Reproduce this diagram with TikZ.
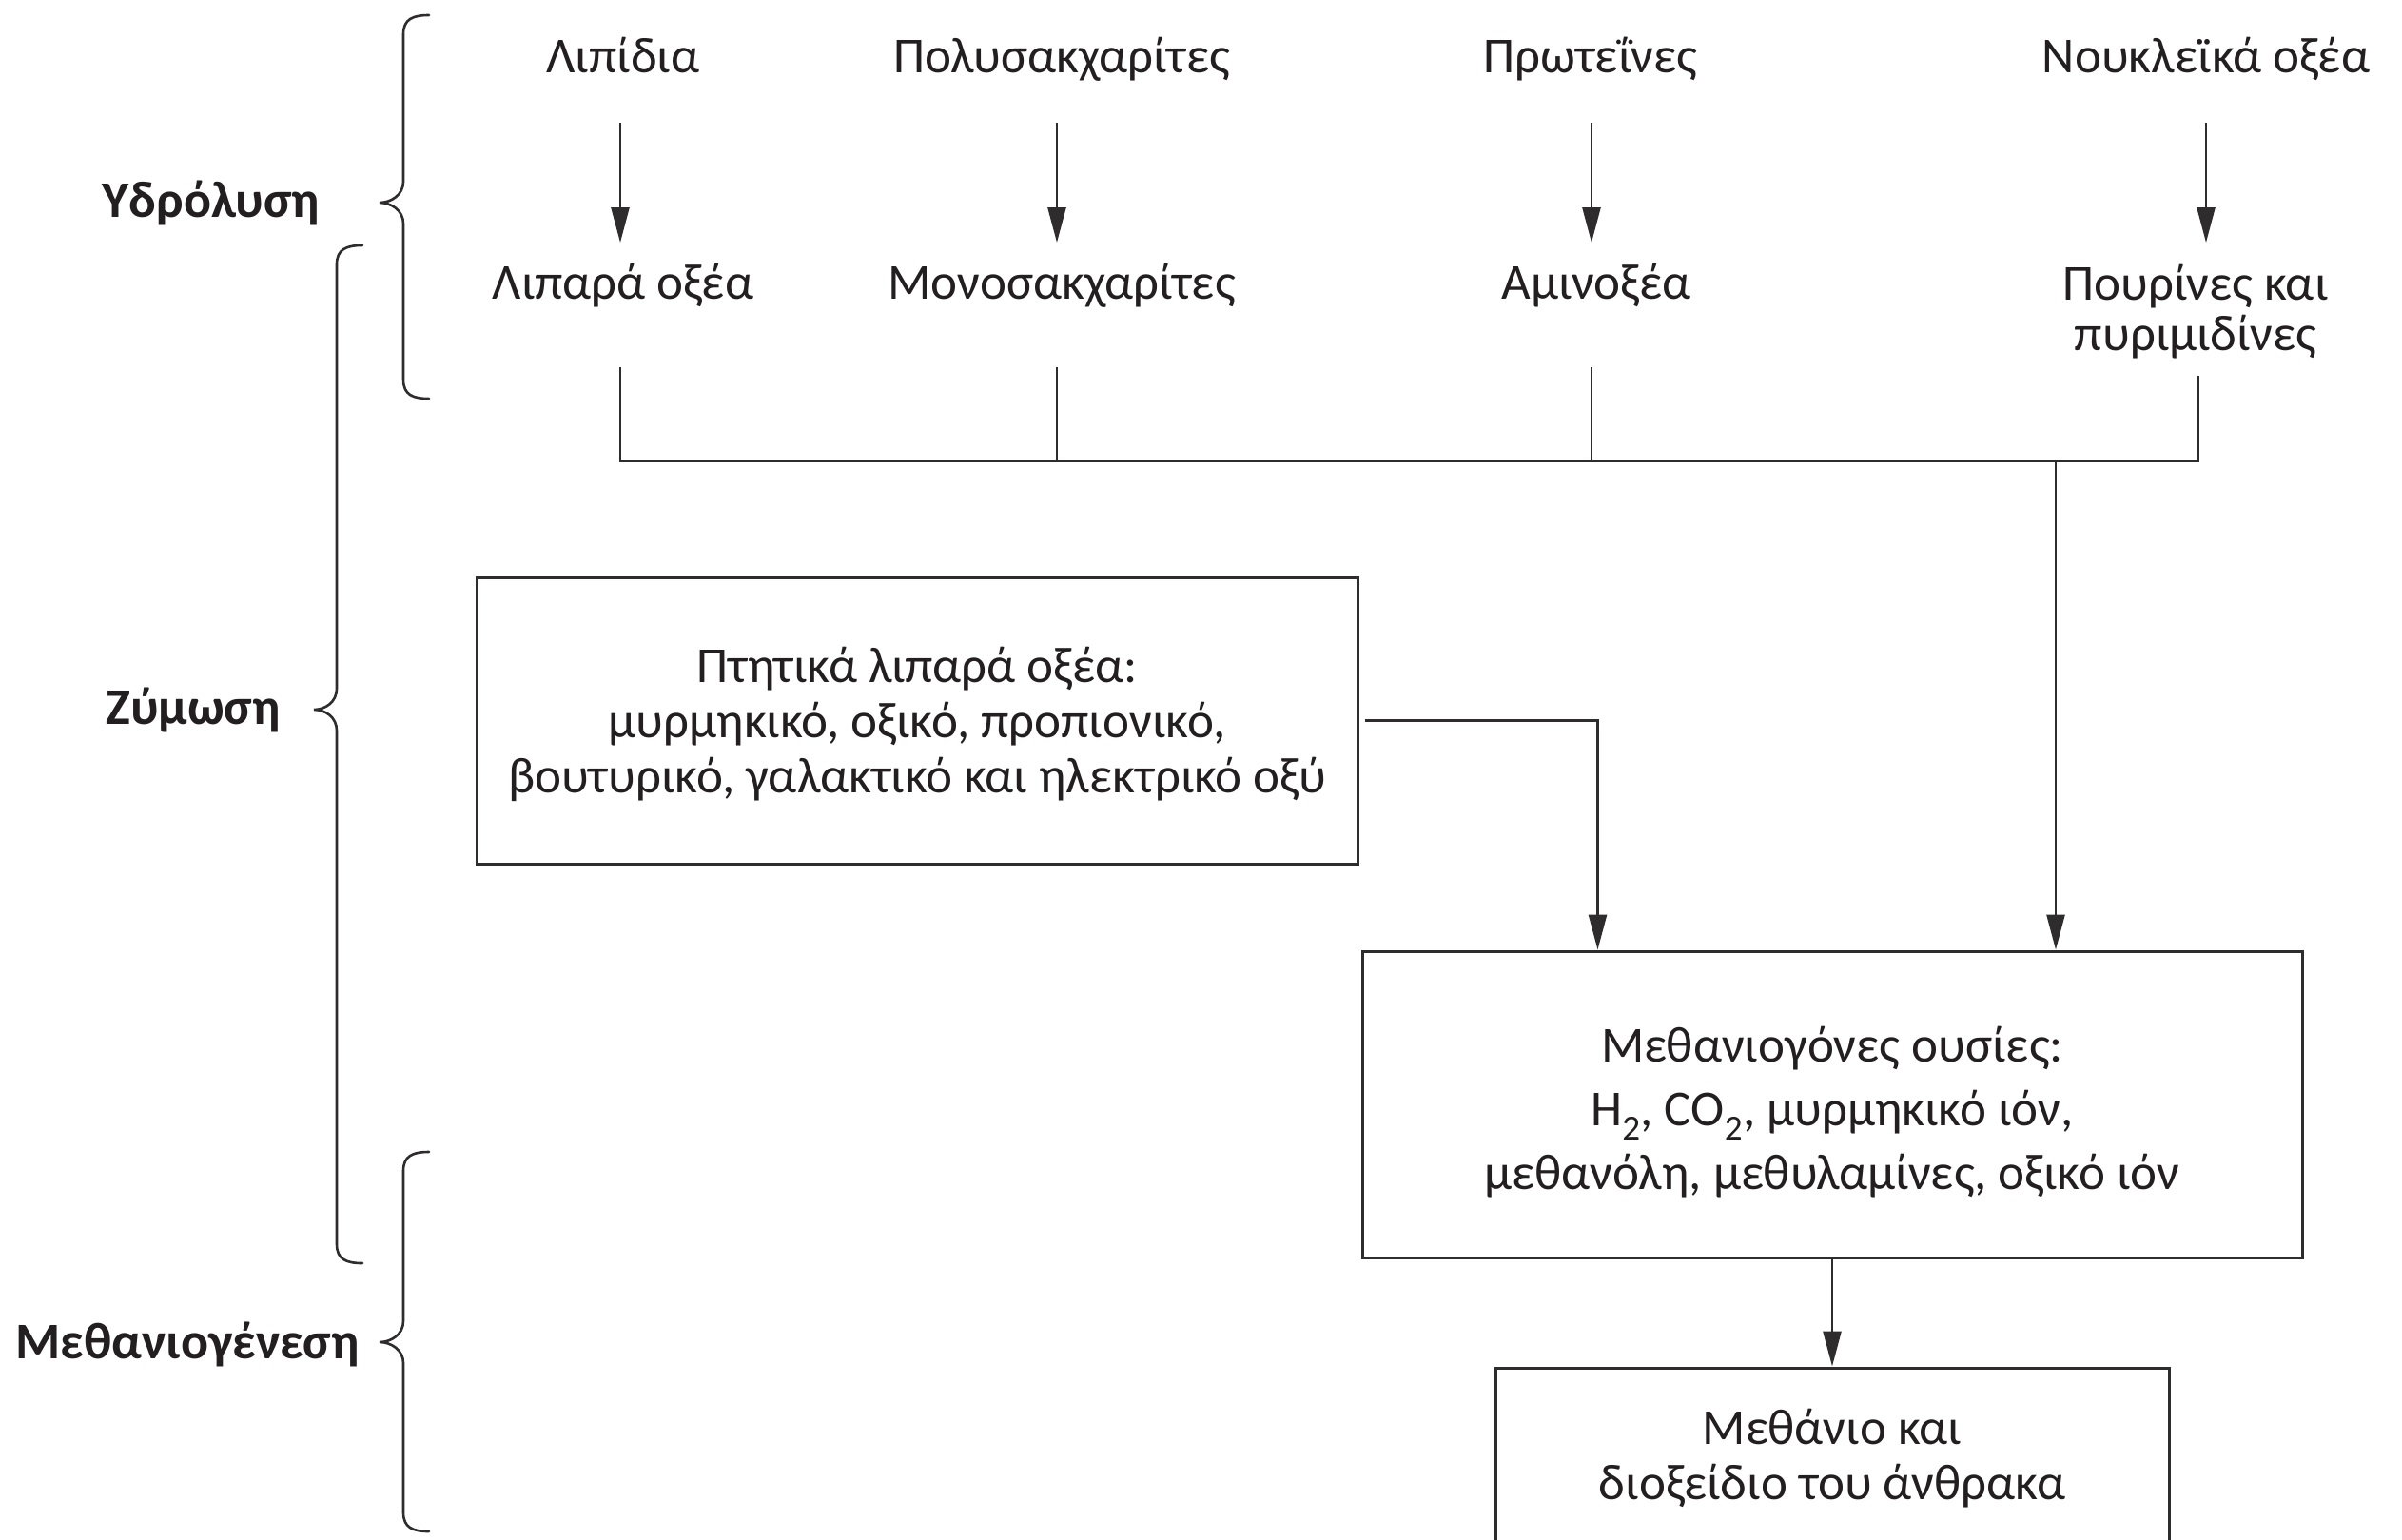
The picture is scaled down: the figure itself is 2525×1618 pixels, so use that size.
\documentclass[tikz,border=0pt]{standalone}
\usepackage{fontspec}
\setmainfont{Carlito}
\usetikzlibrary{arrows.meta}
\definecolor{ink}{HTML}{231F20}
\definecolor{lineink}{HTML}{2E2C2D}
\newcommand\mybrace[6]{%
  \draw[bracestroke] (#2,#3) .. controls (#1+10,#3) and (#1,#3+4) .. (#1,#3+20)
    -- (#1,#4-22) .. controls (#1,#4-8) and (#6+12,#4) .. (#6,#4)
    .. controls (#6+12,#4) and (#1,#4+8) .. (#1,#4+22)
    -- (#1,#5-20) .. controls (#1,#5-4) and (#1+10,#5) .. (#2,#5);}
\begin{document}
\begin{tikzpicture}[x=1pt,y=-1pt,
  every node/.style={font=\fontsize{53}{58}\selectfont, text=ink, inner sep=0pt, align=center},
  stagebox/.style={draw=lineink, line width=3pt, inner sep=0pt},
  phase/.style={font=\fontsize{54}{60}\selectfont\bfseries},
  conn/.style={draw=lineink, line width=2.6pt},
  arr/.style={conn, -{Triangle[length=37pt,width=19pt]}},
  bracestroke/.style={draw=lineink, line width=2.6pt, line cap=round}
]
\path[use as bounding box, clip] (0,0) rectangle (2525,1618);
\fill[white] (0,0) rectangle (2525,1618);

% top row
\node[anchor=base] (t1) at (655,76) {Λιπίδια};
\node[anchor=base] (t2) at (1116,76) {Πολυσακχαρίτες};
\node[anchor=base] (t3) at (1672,76) {Πρωτεΐνες};
\node[anchor=base] (t4) at (2319,76) {Νουκλεϊκά οξέα};

% second row
\node[anchor=base] (b1) at (655,314) {Λιπαρά οξέα};
\node[anchor=base] (b2) at (1116,314) {Μονοσακχαρίτες};
\node[anchor=base] (b3) at (1678,314) {Αμινοξέα};
\node[anchor=base, font=\fontsize{53}{53}\selectfont] (b4) at (2308,368) {Πουρίνες και\\πυριμιδίνες};

% boxes
\node[stagebox, minimum width=926pt, minimum height=301pt] (vfa) at (964,757.5) {};
\node (vfatxt) at (964,761)
  {Πτητικά λιπαρά οξέα:\\μυρμηκικό, οξικό, προπιονικό,\\βουτυρικό, γαλακτικό και ηλεκτρικό οξύ};
\node[stagebox, minimum width=988pt, minimum height=322pt] (meth) at (1926,1161) {};
\node[font=\fontsize{53}{67}\selectfont] (methtxt) at (1926,1169)
  {Μεθανιογόνες ουσίες:\\H\textsubscript{2}, CO\textsubscript{2}, μυρμηκικό ιόν,\\μεθανόλη, μεθυλαμίνες, οξικό ιόν};
\node[stagebox, minimum width=708pt, minimum height=184pt] (ch4) at (1926,1530) {};
\node (ch4txt) at (1926,1533) {Μεθάνιο και\\διοξείδιο του άνθρακα};

% phase labels
\node[phase, anchor=base] (p1) at (222,228) {Υδρόλυση};
\node[phase, anchor=base] (p2) at (203,761) {Ζύμωση};
\node[phase, anchor=base] (p3) at (197,1428) {Μεθανιογένεση};

% braces
\mybrace{424}{451}{16}{213}{419}{399}
\mybrace{354}{381}{258}{746}{1328}{330}
\mybrace{424}{451}{1211}{1411}{1610}{399}

% arrows top to second row
\draw[arr] ([xshift=-3pt,yshift=-53pt]t1.base) -- ([xshift=-3pt]t1.base |- 0,255);
\draw[arr] ([xshift=-5pt,yshift=-53pt]t2.base) -- ([xshift=-5pt]t2.base |- 0,255);
\draw[arr] ([xshift=1pt,yshift=-53pt]t3.base) -- ([xshift=1pt]t3.base |- 0,255);
\draw[arr] ([yshift=-53pt]t4.base) -- (t4.base |- 0,255);
\coordinate (j) at (2161,485);
\draw[conn] ([xshift=-3pt,yshift=-72pt]b1.base) -- ([xshift=-3pt]b1.base |- j) -- ([xshift=3pt]b4.base |- j) -- ([xshift=3pt,yshift=-27pt]b4.base);
\draw[conn] ([xshift=-5pt,yshift=-72pt]b2.base) -- ([xshift=-5pt]b2.base |- j);
\draw[conn] ([xshift=-5pt,yshift=-72pt]b3.base) -- ([xshift=-5pt]b3.base |- j);
\draw[arr] (j) -- (j |- meth.north);
\draw[arr] ([xshift=6pt]vfa.east) -| ([xshift=249pt]meth.north west);
\draw[arr] (meth.south) -- (ch4.north);
\end{tikzpicture}
\end{document}
